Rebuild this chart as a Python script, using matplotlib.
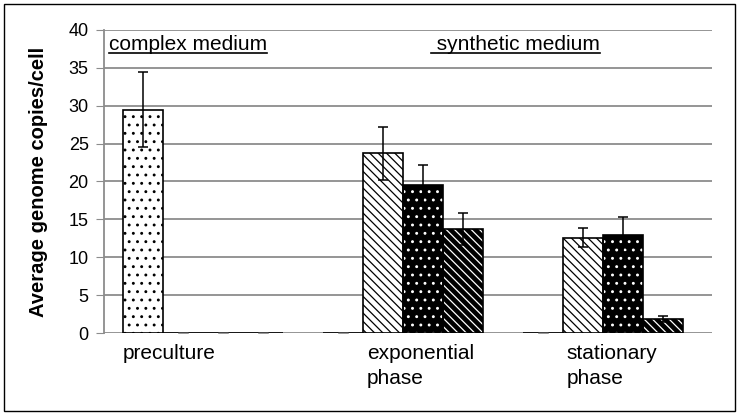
import numpy as np
import matplotlib.pyplot as plt
from matplotlib.patches import Rectangle

plt.rcParams['font.family'] = ['Liberation Sans', 'DejaVu Sans']
plt.rcParams['hatch.linewidth'] = 0.9

categories = ["preculture", "exponential\nphase", "stationary\nphase"]
# four series per group
values = [
    [29.5, 0.0, 0.0],    # white, dotted
    [0.0, 23.7, 12.6],   # white, hatched
    [0.0, 19.6, 13.0],   # black, white dots
    [0.0, 13.7, 1.9],    # black, hatched
]
errors = [
    [4.9, 0.0, 0.0],
    [0.0, 3.5, 1.2],
    [0.0, 2.6, 2.3],
    [0.0, 2.1, 0.4],
]
yticks = [0, 5, 10, 15, 20, 25, 30, 35, 40]

fig = plt.figure(figsize=(7.39, 4.16), dpi=100)
ax = fig.add_axes([0.1407, 0.1995, 0.8227, 0.7285])

x = np.arange(len(categories))
width = 0.2
styles = [
    dict(face="white", hatch="..", hcol="black"),
    dict(face="white", hatch="\\\\\\\\", hcol="black"),
    dict(face="black", hatch="..", hcol="white"),
    dict(face="black", hatch="\\\\\\\\", hcol="white"),
]

for i in range(4):
    pos = x + (i - 1.5) * width
    vals = np.array(values[i])
    st = styles[i]
    # fill + hatch, then a black outline on top
    ax.bar(pos, vals, width, color=st["face"], edgecolor=st["hcol"],
           hatch=st["hatch"], linewidth=0, zorder=3)
    ax.bar(pos, vals, width, fill=False, edgecolor="black", linewidth=1.2,
           zorder=4)
    nz = vals > 0
    ax.errorbar(pos[nz], vals[nz], yerr=np.array(errors[i])[nz], fmt="none",
                ecolor="black", elinewidth=1.1, capsize=3.4, capthick=1.1,
                zorder=5)
    ax.errorbar(pos[~nz], vals[~nz], yerr=np.array(errors[i])[~nz],
                fmt="none", ecolor="#999999", elinewidth=1, capsize=3.4,
                capthick=1, zorder=5)

ax.set_xlim(-0.494, 2.545)
ax.set_ylim(0, 40)
ax.set_yticks(yticks)
ax.tick_params(axis="y", direction="out", length=6, color="#8c8c8c",
               labelsize=13, pad=5)
ax.set_xticks([])
ax.yaxis.grid(True, color="#8c8c8c", linewidth=1.3, zorder=0)
ax.set_axisbelow(True)
for s in ["top", "right", "bottom"]:
    ax.spines[s].set_visible(False)
ax.spines["left"].set_color("#8c8c8c")
ax.spines["left"].set_linewidth(1.3)

ax.set_ylabel("Average genome copies/cell", fontsize=14.5, fontweight="bold",
              labelpad=15)

# category labels under the groups
label_x = [-0.399, 0.82, 1.82]
for lx, lab in zip(label_x, categories):
    ax.text(lx, -1.45, lab, ha="left", va="top", fontsize=15,
            linespacing=1.39)

# underlined headers
headers = [("complex medium", -0.47), (" synthetic medium", 1.14)]
fig.canvas.draw()
r = fig.canvas.get_renderer()
inv = ax.transData.inverted()
for txt, hx in headers:
    t = ax.text(hx, 37.36, txt, ha="left", va="baseline", fontsize=15)
    bb = t.get_window_extent(renderer=r)
    x0, x1 = inv.transform([(bb.x0, 0), (bb.x1, 0)])[:, 0]
    ax.plot([x0, x1], [36.96, 36.96], color="black", linewidth=1.2,
            clip_on=False, zorder=6)

fig.patches.append(Rectangle((0.006, 0.012), 0.988, 0.978,
                             transform=fig.transFigure, fill=False,
                             edgecolor="black", linewidth=1))

fig.savefig("out.png", dpi=100)
